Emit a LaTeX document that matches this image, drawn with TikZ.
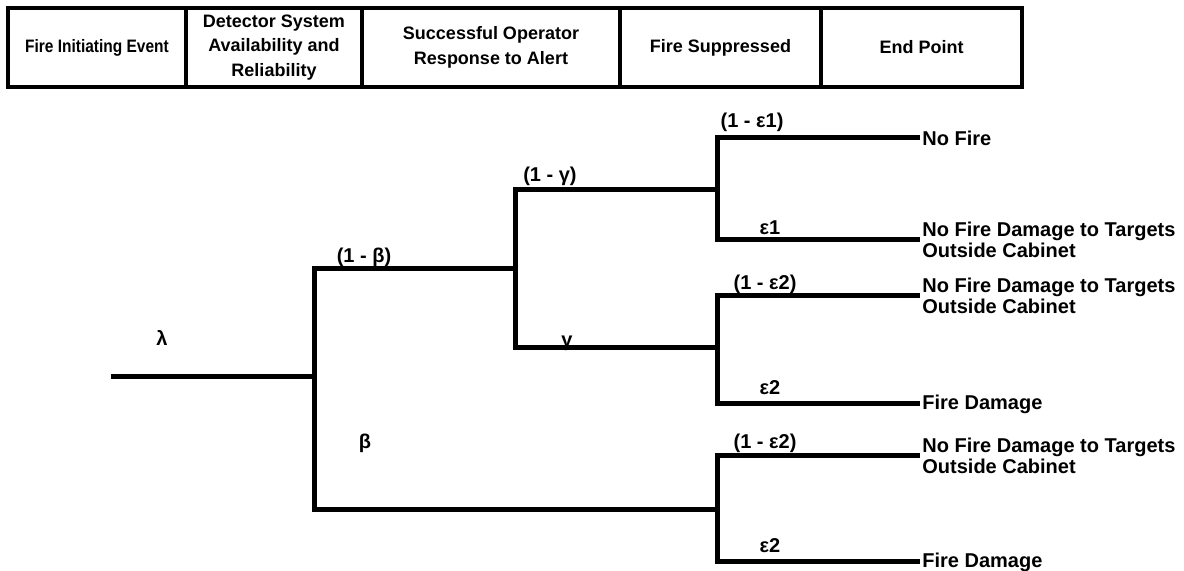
\documentclass[tikz,border=0pt]{standalone}
\usepackage{fontspec}
\setmainfont{Liberation Sans}
\usetikzlibrary{positioning}

\begin{document}
\begin{tikzpicture}[
    x=0.5pt, y=-0.5pt,
    branch/.style={line width=2.5pt},
    hdr/.style={draw, line width=1.7pt, outer sep=0pt, minimum height=39.5pt,
        inner sep=1pt, align=center, font=\fontsize{9}{12.2}\selectfont\bfseries},
    prob/.style={inner sep=1pt, font=\fontsize{10}{12}\selectfont\bfseries},
    outcome/.style={anchor=west, inner sep=1pt, align=left,
        font=\fontsize{10}{10.5}\selectfont\bfseries}
]

\useasboundingbox (0,0) rectangle (1184,571);

% Column headings
\node[hdr, minimum width=89pt, anchor=north west] (hInit) at (8,8) {\scalebox{0.86}[1]{Fire Initiating Event}};
\node[hdr, minimum width=88pt, right=0pt of hInit] (hDet) {Detector System\\Availability and\\Reliability};
\node[hdr, minimum width=129pt, right=0pt of hDet] (hOper) {Successful Operator\\Response to Alert};
\node[hdr, minimum width=100.5pt, right=0pt of hOper] (hSupp) {Fire Suppressed};
\node[hdr, minimum width=100.5pt, right=0pt of hSupp] (hEnd) {End Point};

% Branch points
\coordinate (start) at (111,377);
\coordinate (sB) at (314,377);
\coordinate (sG) at (515,269);
\coordinate (sE1) at (717,190);
\coordinate (sE2) at (717,348);
\coordinate (sE3) at (717,510);

% End points
\node[outcome] (noFire) at (920,138) {No Fire};
\node[outcome] (okA) at (920,240) {No Fire Damage to Targets\\Outside Cabinet};
\node[outcome] (okB) at (920,296) {No Fire Damage to Targets\\Outside Cabinet};
\node[outcome] (dmgA) at (920,404) {Fire Damage};
\node[outcome] (okC) at (920,456) {No Fire Damage to Targets\\Outside Cabinet};
\node[outcome] (dmgB) at (920,562) {Fire Damage};

% Tree
\draw[branch] (start) -- (sB);
\draw[branch] (sG) -| (sB) |- (sE3);
\draw[branch] (sE1) -| (sG) |- (sE2);
\draw[branch] (noFire.west) -| (sE1) |- (okA.west);
\draw[branch] (okB.west) -| (sE2) |- (dmgA.west);
\draw[branch] (okC.west) -| (sE3) |- (dmgB.west);

% Probabilities
\node[prob] (lLam) at (162,338) {λ};
\node[prob] (lNotB) at (364,257) {(1 - β)};
\node[prob] (lB) at (365,443) {β};
\node[prob] (lNotG) at (550,176) {(1 - γ)};
\node[prob] (lG) at (567,343) {γ};
\node[prob] (lNotE1) at (752,122) {(1 - ε1)};
\node[prob] (lE1) at (770,228) {ε1};
\node[prob] (lNotE2a) at (765,284) {(1 - ε2)};
\node[prob] (lE2a) at (770,388) {ε2};
\node[prob] (lNotE2b) at (765,443) {(1 - ε2)};
\node[prob] (lE2b) at (770,546) {ε2};

\end{tikzpicture}
\end{document}
